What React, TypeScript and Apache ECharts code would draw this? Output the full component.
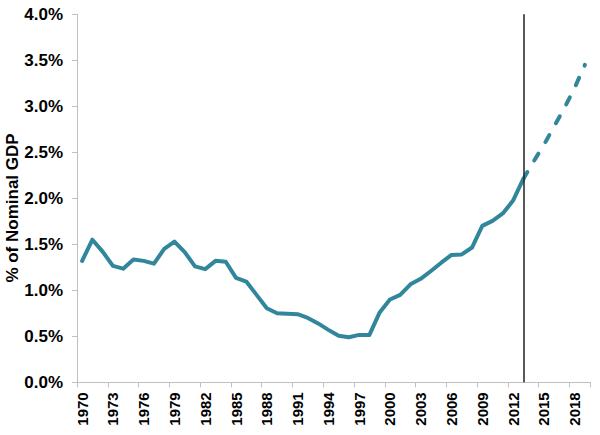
import React, { useEffect, useRef } from "react";
import * as echarts from "echarts";

const years: string[] = [];
for (let y = 1970; y <= 2019; y++) years.push(String(y));

const historical = [
  1.32, 1.55, 1.42, 1.265, 1.235, 1.335, 1.32, 1.29, 1.45, 1.53,
  1.415, 1.26, 1.23, 1.32, 1.31, 1.135, 1.095, 0.95, 0.805, 0.75,
  0.745, 0.74, 0.7, 0.64, 0.57, 0.505, 0.49, 0.515, 0.515, 0.76,
  0.9, 0.95, 1.065, 1.125, 1.21, 1.3, 1.385, 1.39, 1.465, 1.7,
  1.755, 1.835, 1.975, 2.21,
];
const projectionYears = ["2013", "2014", "2015", "2016", "2017", "2018", "2019"];
const projection = [2.21, 2.4, 2.58, 2.78, 2.98, 3.2, 3.45];
const markerYear = "2013";
const yTitle = "% of Nominal GDP";

const FONT = "'Liberation Sans', Arial, Helvetica, sans-serif";
const LINE_COLOR = "#31869C";

export default function App() {
  const ref = useRef<HTMLDivElement>(null);
  useEffect(() => {
    if (!ref.current) return;
    const chart = echarts.init(ref.current, undefined, { renderer: "svg" });
    const solidData = years.map((y, i) => (i < historical.length ? historical[i] : null));
    const dashedData = years.map((y) => {
      const idx = projectionYears.indexOf(y);
      return idx >= 0 ? projection[idx] : null;
    });
    chart.setOption({
      animation: false,
      backgroundColor: "#ffffff",
      grid: { left: 77, right: 10, top: 14.3, bottom: 52.7, containLabel: false },
      xAxis: {
        type: "category",
        data: years,
        boundaryGap: true,
        axisLine: { show: true, lineStyle: { color: "#bfbfbf", width: 1 } },
        axisTick: { show: true, interval: 2, length: 5, lineStyle: { color: "#bfbfbf" } },
        axisLabel: {
          interval: 2,
          rotate: 90,
          margin: 10,
          color: "#000",
          fontFamily: FONT,
          fontWeight: "bold",
          fontSize: 15,
        },
        splitLine: { show: false },
      },
      yAxis: {
        type: "value",
        min: 0,
        max: 4,
        interval: 0.5,
        axisLine: { show: true, lineStyle: { color: "#bfbfbf", width: 1 } },
        axisTick: { show: true, length: 5, lineStyle: { color: "#bfbfbf" } },
        axisLabel: {
          margin: 14,
          color: "#000",
          fontFamily: FONT,
          fontWeight: "bold",
          fontSize: 17,
          formatter: (v: number) => v.toFixed(1) + "%",
        },
        splitLine: { show: false },
      },
      graphic: [
        {
          type: "text",
          x: 12,
          y: 208,
          rotation: Math.PI / 2,
          style: {
            text: yTitle,
            fill: "#000",
            font: `bold 17px ${FONT}`,
            textAlign: "center",
            textVerticalAlign: "middle",
          },
        },
      ],
      series: [
        {
          type: "line",
          data: solidData,
          showSymbol: false,
          symbol: "none",
          lineStyle: { color: LINE_COLOR, width: 4, cap: "round", join: "round" },
          markLine: {
            silent: true,
            symbol: "none",
            label: { show: false },
            lineStyle: { color: "#222", width: 1.5, type: "solid" },
            data: [{ xAxis: markerYear }],
          },
          z: 3,
        },
        {
          type: "line",
          data: dashedData,
          showSymbol: false,
          symbol: "none",
          lineStyle: { color: LINE_COLOR, width: 4, type: [8, 13.5], cap: "round" },
          z: 3,
        },
      ],
    });
    return () => chart.dispose();
  }, []);
  return (
    <div
      ref={ref}
      style={{ position: "fixed", left: 0, top: 0, width: 600, height: 435, background: "#fff" }}
    />
  );
}
